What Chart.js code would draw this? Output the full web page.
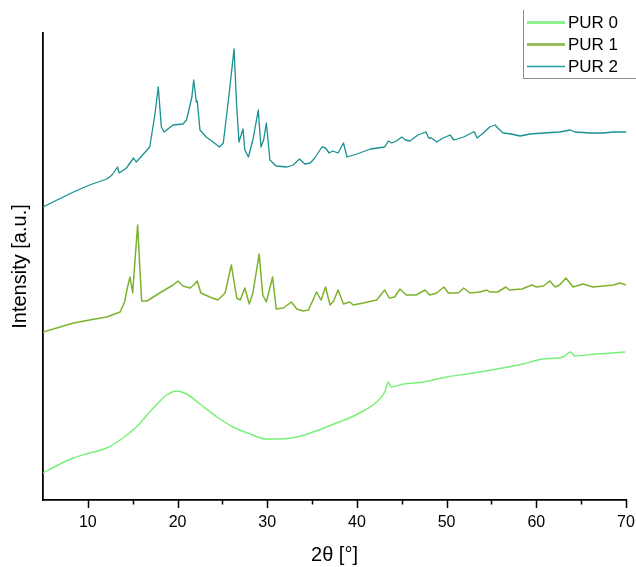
<!DOCTYPE html>
<html>
<head>
<meta charset="utf-8">
<script src="https://cdn.jsdelivr.net/npm/chart.js@4.4.1/dist/chart.umd.min.js"></script>
<style>
html,body{margin:0;padding:0;background:#fff;}
#wrap{width:636px;height:567px;position:relative;}
canvas{display:block;}
</style>
</head>
<body>
<div id="wrap"><canvas id="c" width="636" height="567"></canvas></div>
<script>
// ---- Data (intensity in arbitrary units) ----
const seriesLabels = ['PUR 0', 'PUR 1', 'PUR 2'];

const pur0X = [5.0, 6.9, 8.4, 10.2, 12.1, 13.6, 15.4, 17.3, 18.8, 19.9, 21.0, 22.5, 24.4, 26.2, 28.1, 29.9, 31.4, 33.3, 35.1, 36.6, 38.0, 38.9, 40.7, 42.2, 43.1, 43.5, 43.8, 45.2, 47.4, 50.0, 53.0, 55.6, 58.5, 60.8, 63.0, 63.8, 64.3, 66.7, 69.9];
const pur0Y = [27, 36, 42, 47, 52, 60, 73, 92, 105, 109, 106, 96, 83, 73, 66, 61, 61, 63, 68, 73, 78, 81, 89, 98, 108, 118, 113, 116, 118, 123, 127, 131, 136, 141, 143, 148, 144, 146, 148];

const pur1X = [5.0, 6.9, 8.4, 10.2, 12.1, 13.6, 14.1, 14.4, 14.7, 15.0, 15.3, 15.55, 15.8, 16.0, 16.6, 18.0, 19.5, 20.05, 20.6, 21.4, 21.8, 22.2, 22.6, 23.6, 24.5, 25.3, 26.0, 26.6, 27.0, 27.5, 28.0, 28.4, 29.1, 29.5, 29.9, 30.6, 31.0, 31.8, 32.7, 33.3, 34.0, 34.6, 35.5, 36.0, 36.5, 37.0, 37.4, 37.9, 38.5, 39.2, 39.6, 40.7, 42.2, 43.1, 43.6, 44.2, 44.8, 45.5, 46.6, 47.6, 48.1, 48.9, 49.7, 50.2, 51.3, 51.9, 52.6, 53.7, 54.5, 54.8, 55.7, 56.6, 57.0, 58.4, 59.5, 60.0, 60.8, 61.5, 62.1, 62.6, 63.3, 64.1, 65.2, 66.3, 67.5, 68.6, 69.3, 70.0];
const pur1Y = [168, 173, 177, 180, 183, 188, 198, 212, 223, 207, 245, 275, 232, 199, 199, 207, 215, 219, 214, 212, 215, 219, 207, 203, 200, 207, 235, 202, 200, 212, 196, 207, 246, 205, 198, 223, 191, 192, 198, 191, 189, 190, 208, 200, 213, 195, 199, 210, 196, 198, 195, 197, 200, 210, 202, 203, 211, 205, 205, 210, 205, 207, 213, 207, 207, 212, 207, 208, 210, 208, 208, 213, 210, 211, 215, 213, 214, 219, 213, 215, 222, 213, 216, 213, 214, 215, 217, 215];

const pur2X = [5.0, 8.4, 10.2, 12.1, 12.7, 13.3, 13.5, 14.3, 15.1, 15.4, 16.9, 17.5, 17.85, 18.2, 18.5, 19.5, 20.6, 21.0, 21.6, 21.8, 22.1, 22.2, 22.5, 23.2, 24.7, 25.1, 25.8, 26.3, 26.6, 26.85, 27.3, 27.5, 27.9, 28.4, 29.0, 29.3, 29.6, 29.9, 30.3, 31.0, 32.2, 32.9, 33.6, 34.2, 34.8, 35.3, 36.1, 36.5, 36.9, 37.3, 37.9, 38.5, 38.9, 40.0, 41.5, 43.1, 43.5, 43.9, 44.4, 45.0, 45.4, 45.9, 46.8, 47.7, 48.0, 48.3, 48.9, 49.6, 50.4, 50.8, 51.9, 53.0, 53.1, 53.4, 54.1, 54.8, 55.4, 55.7, 56.3, 57.2, 58.2, 59.3, 60.8, 62.6, 63.8, 64.3, 66.0, 67.5, 68.6, 70.0];
const pur2Y = [293, 308, 315, 321, 325, 333, 327, 332, 342, 338, 353, 387, 413, 373, 368, 375, 376, 380, 403, 420, 398, 399, 370, 363, 353, 357, 410, 451, 393, 358, 371, 350, 343, 360, 390, 353, 360, 377, 340, 334, 333, 335, 341, 336, 337, 342, 353, 352, 347, 349, 347, 357, 343, 346, 351, 353, 359, 357, 359, 363, 360, 359, 365, 368, 362, 362, 358, 362, 365, 360, 363, 368, 368, 362, 367, 373, 375, 372, 367, 366, 364, 366, 367, 368, 370, 368, 367, 367, 368, 368];

const xMajorTicks = [10, 20, 30, 40, 50, 60, 70];
const xMinorTicks = [15, 25, 35, 45, 55, 65];
const xAxisTitle = '2θ [°]';
const yAxisTitle = 'Intensity [a.u.]';

// ---- Styles ----
const lineColors = ['#78F078', '#7DB22E', '#1A9090'];
const lineWidths = [1.5, 1.5, 1.3];
const lineSmooth = [true, false, false];
const legendLineColors = ['#8FF08F', '#98BE5E', '#2A9E9E'];
const legendLineWidths = [3, 3, 1.6];
const FONT = "'Liberation Sans', Arial, sans-serif";

function pts(xs, ys) { return xs.map((x, i) => ({ x: x, y: ys[i] })); }

const seriesData = [pts(pur0X, pur0Y), pts(pur1X, pur1Y), pts(pur2X, pur2Y)];

const legendAndTicks = {
  id: 'legendAndTicks',
  afterDraw(chart) {
    const ctx = chart.ctx;
    const xs = chart.scales.x;
    const area = chart.chartArea;
    // major and minor tick marks on the x axis
    ctx.save();
    ctx.strokeStyle = '#000';
    ctx.lineWidth = 1.5;
    const drawTick = (v, len) => {
      const px = Math.round(xs.getPixelForValue(v)) + 0.5;
      ctx.beginPath();
      ctx.moveTo(px, area.bottom);
      ctx.lineTo(px, area.bottom + len);
      ctx.stroke();
    };
    xMajorTicks.forEach(v => drawTick(v, 8));
    xMinorTicks.forEach(v => drawTick(v, 4.5));
    ctx.restore();

    // legend box
    ctx.save();
    const bx = 523.5, by = 10, bbot = 78.5;
    ctx.fillStyle = '#fff';
    ctx.fillRect(bx, by, chart.width - bx, bbot - by);
    ctx.strokeStyle = '#8a8a8a';
    ctx.lineWidth = 1;
    ctx.beginPath();
    ctx.moveTo(bx, by);
    ctx.lineTo(bx, bbot);
    ctx.lineTo(chart.width, bbot);
    ctx.stroke();
    ctx.font = '17px ' + FONT;
    ctx.textBaseline = 'middle';
    ctx.textAlign = 'left';
    chart.data.datasets.forEach((ds, i) => {
      const y = 22.5 + i * 22;
      ctx.strokeStyle = legendLineColors[i];
      ctx.lineWidth = legendLineWidths[i];
      ctx.beginPath();
      ctx.moveTo(527, y);
      ctx.lineTo(565, y);
      ctx.stroke();
      ctx.fillStyle = '#000';
      ctx.fillText(ds.label, 568, y + 1);
    });
    ctx.restore();
  }
};

new Chart(document.getElementById('c'), {
  type: 'line',
  data: {
    datasets: seriesLabels.map((lab, i) => ({
      label: lab,
      data: seriesData[i],
      borderColor: lineColors[i],
      backgroundColor: lineColors[i],
      borderWidth: lineWidths[i],
      pointRadius: 0,
      tension: lineSmooth[i] ? 0.4 : 0,
      cubicInterpolationMode: lineSmooth[i] ? 'monotone' : 'default',
      fill: false,
      borderJoinStyle: 'round'
    }))
  },
  options: {
    responsive: false,
    animation: false,
    devicePixelRatio: 1,
    layout: { padding: { left: 8, right: 10, top: 33, bottom: 0 } },
    plugins: { legend: { display: false }, tooltip: { enabled: false } },
    scales: {
      x: {
        type: 'linear',
        min: 5,
        max: 70,
        afterBuildTicks: (scale) => { scale.ticks = xMajorTicks.map(v => ({ value: v })); },
        ticks: {
          color: '#000',
          font: { family: FONT, size: 16 },
          padding: 0,
          maxRotation: 0,
          autoSkip: false,
          callback: (v) => String(v)
        },
        grid: { display: true, drawOnChartArea: false, drawTicks: true, tickLength: 13.4, color: 'rgba(0,0,0,0)', lineWidth: 1 },
        border: { display: true, color: '#000', width: 1.8 },
        title: { display: true, text: xAxisTitle, color: '#000', font: { family: FONT, size: 20 }, padding: { top: 10.4, bottom: 0 } }
      },
      y: {
        type: 'linear',
        min: 0,
        max: 467,
        ticks: { display: false },
        grid: { display: false, drawTicks: false },
        border: { display: true, color: '#000', width: 1.8 },
        title: { display: true, text: yAxisTitle, color: '#000', font: { family: FONT, size: 20 }, padding: { top: 0, bottom: 11 } }
      }
    }
  },
  plugins: [legendAndTicks]
});
</script>
</body>
</html>
